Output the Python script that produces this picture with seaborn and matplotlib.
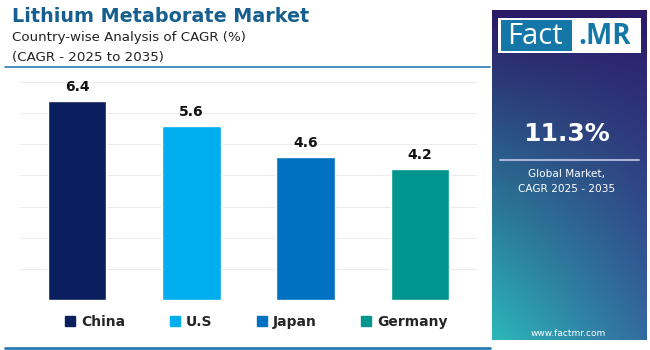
import numpy as np
import pandas as pd
import seaborn as sns
import matplotlib
matplotlib.use("Agg")
import matplotlib.pyplot as plt
from matplotlib.lines import Line2D
from matplotlib.patches import Rectangle

# data
countries = ["China", "U.S", "Japan", "Germany"]
cagr = [6.4, 5.6, 4.6, 4.2]
bar_colors = ["#0b1f5e", "#00adee", "#0070c0", "#00968f"]
global_cagr = "11.3%"

sns.set_style("white")
plt.rcParams["font.family"] = ["DejaVu Sans"]

df = pd.DataFrame({"Country": countries, "CAGR": cagr})

fig = plt.figure(figsize=(6.5, 3.5), dpi=100)
fig.patch.set_facecolor("white")

# main bar axes
ax = fig.add_axes([20 / 650, 1 - 300 / 350, 457 / 650, 218 / 350])
sns.barplot(data=df, x="Country", y="CAGR", hue="Country", palette=bar_colors,
            width=0.51, legend=False, ax=ax, saturation=1)
ax.set_ylim(0, 7)
ax.set_xlim(-0.5, 3.5)
ax.set_yticks(range(0, 8))
ax.yaxis.grid(True, color="#ececec", linewidth=0.8)
ax.set_axisbelow(True)
ax.set_xticks([])
ax.set_yticklabels([])
ax.tick_params(left=False, bottom=False)
ax.set_xlabel("")
ax.set_ylabel("")
sns.despine(ax=ax, left=True, bottom=True)
for i, v in enumerate(cagr):
    ax.text(i, v + 0.22, f"{v}", ha="center", va="bottom", fontsize=10,
            fontweight="bold", color="#111111")

# legend
handles = [Line2D([0], [0], marker="s", linestyle="", markersize=7,
                  markerfacecolor=c, markeredgecolor=c) for c in bar_colors]
fig.legend(handles, countries, loc="center", bbox_to_anchor=(256 / 650, 1 - 322 / 350),
           ncol=4, frameon=False, handlelength=0.8, handletextpad=0.4,
           columnspacing=3.15, prop={"weight": "bold", "size": 10})

# title block
fig.text(12 / 650, 1 - 17 / 350, "Lithium Metaborate Market", fontsize=13.8,
         fontweight="bold", color="#175f8f", va="center", ha="left")
fig.text(12 / 650, 1 - 38 / 350, "Country-wise Analysis of CAGR (%)", fontsize=9.6,
         color="#222222", va="center", ha="left")
fig.text(12 / 650, 1 - 57 / 350, "(CAGR - 2025 to 2035)", fontsize=9.6,
         color="#222222", va="center", ha="left")
fig.add_artist(Line2D([5 / 650, 490 / 650], [1 - 67 / 350, 1 - 67 / 350],
                      color="#2a7ab0", linewidth=1.2))
fig.add_artist(Line2D([5 / 650, 490 / 650], [1 - 348 / 350, 1 - 348 / 350],
                      color="#2a7ab0", linewidth=2))

# right gradient panel
pax = fig.add_axes([492 / 650, 1 - 340 / 350, 155 / 650, 330 / 350])
h, w = 200, 100
yy, xx = np.mgrid[0:1:h * 1j, 0:1:w * 1j]
top = np.array([0.17, 0.10, 0.40])
bot_l = np.array([0.17, 0.72, 0.73])
bot_r = np.array([0.20, 0.42, 0.62])
t = np.clip(yy * 1.0, 0, 1)[..., None]
bottom = bot_l * (1 - xx[..., None]) + bot_r * xx[..., None]
img = top * (1 - t) + bottom * t
pax.imshow(img, aspect="auto", extent=[0, 1, 0, 1], origin="upper")
pax.set_xlim(0, 1)
pax.set_ylim(0, 1)
pax.axis("off")

# logo
def px(x, y):
    return ((x - 492) / 155, (340 - y) / 330)

x0, y0 = px(498, 53)
x1, y1 = px(641, 18)
pax.add_patch(Rectangle((x0, y0), x1 - x0, y1 - y0, facecolor="white", edgecolor="none"))
xa, ya = px(501, 51)
xb, yb = px(572, 20)
pax.add_patch(Rectangle((xa, ya), xb - xa, yb - ya, facecolor="#1477a8", edgecolor="none"))
pax.text(*px(535, 37), "Fact", color="white", fontsize=21, ha="center", va="center",
         family=["Open Sans", "DejaVu Sans"])
pax.text(*px(605, 37), ".MR", color="#1477a8", fontsize=20, fontweight="bold",
         ha="center", va="center", family=["Open Sans", "DejaVu Sans"])

pax.text(*px(567, 134), global_cagr, color="white", fontsize=18, fontweight="bold",
         ha="center", va="center")
xl0, yl = px(500, 160)
xl1, _ = px(639, 160)
pax.plot([xl0, xl1], [yl, yl], color="#a9b4d6", linewidth=1.5)
pax.text(*px(567, 174), "Global Market,", color="white", fontsize=7.6, ha="center", va="center")
pax.text(*px(567, 189), "CAGR 2025 - 2035", color="white", fontsize=7.6, ha="center", va="center")
pax.text(*px(568, 334), "www.factmr.com", color="white", fontsize=6.5, ha="center", va="center")

fig.savefig("out.png", dpi=100)
